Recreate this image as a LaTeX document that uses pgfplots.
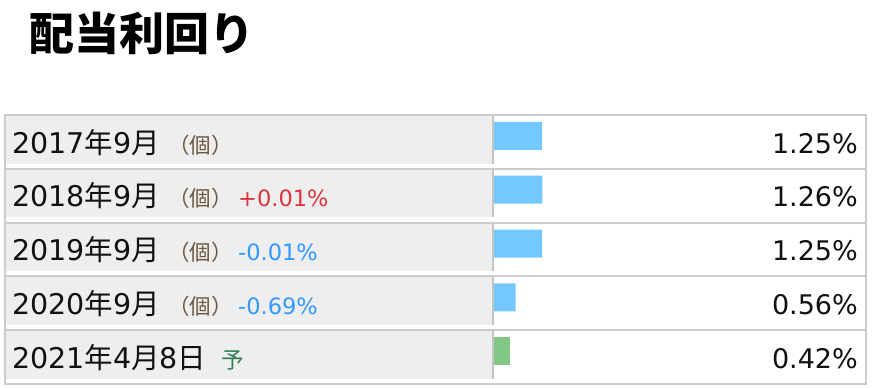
\documentclass[border=0pt]{standalone}
\usepackage{pgfplots}
\pgfplotsset{compat=1.18}
\usepackage{fontspec}
\setmainfont{DejaVu Sans}
\newfontfamily\cjk{Noto Sans CJK JP}
\definecolor{cellgray}{HTML}{EEEEEE}
\definecolor{linegray}{HTML}{CCCCCC}
\definecolor{sepgray}{HTML}{C4C4C4}
\definecolor{barblue}{HTML}{73C8FF}
\definecolor{bargreen}{HTML}{80C884}
\definecolor{labtext}{HTML}{111111}
\definecolor{parbrown}{HTML}{6B5640}
\definecolor{upred}{HTML}{D9363E}
\definecolor{downblue}{HTML}{3399FF}
\definecolor{yogreen}{HTML}{2E7D4E}
\newcommand{\lab}{\fontsize{28.5bp}{30bp}\selectfont}
\begin{document}
\begin{tikzpicture}
\begin{scope}[x=1bp,y=-1bp]
  \path (0,0) rectangle (874,388);
  \foreach \k in {0,...,4}{
    \pgfmathsetmacro{\yl}{115+53.8*\k}
    \fill[cellgray] (6,\yl+1) rectangle (492,\yl+48.5);
    \draw[sepgray,line width=2bp] (493,\yl+1) -- (493,\yl+48.5);
  }
  \foreach \k in {0,...,5}{
    \pgfmathsetmacro{\yl}{115+53.8*\k}
    \draw[linegray,line width=2bp] (4,\yl) -- (867,\yl);
  }
  \draw[linegray,line width=2bp] (5,114) -- (5,385);
  \draw[linegray,line width=2bp] (866,114) -- (866,385);
\end{scope}
\begin{axis}[
  at={(494bp,-109bp)}, anchor=north west,
  scale only axis, width=192bp, height=269bp,
  xmin=0, xmax=5, ymin=-0.5, ymax=4.5, y dir=reverse,
  axis lines=none, ticks=none, clip=false,
  xbar, bar width=28bp, bar shift=0pt,
]
\addplot[draw=none, fill=barblue] coordinates {(1.25,0) (1.26,1) (1.25,2) (0.56,3)};
\addplot[draw=none, fill=bargreen] coordinates {(0.42,4)};
\end{axis}
\begin{scope}[x=1bp,y=-1bp]
  \node[anchor=base west, inner sep=0pt, font=\cjk\fontsize{45bp}{48bp}\selectfont\bfseries] at (29,50) {配当利回り};
  \node[anchor=base west, inner sep=0pt, text=labtext] at (12,153) {\lab 2017{\cjk 年}9{\cjk 月}};
  \node[anchor=base west, inner sep=0pt, text=labtext] at (12,206.8) {\lab 2018{\cjk 年}9{\cjk 月}};
  \node[anchor=base west, inner sep=0pt, text=labtext] at (12,260.6) {\lab 2019{\cjk 年}9{\cjk 月}};
  \node[anchor=base west, inner sep=0pt, text=labtext] at (12,314.4) {\lab 2020{\cjk 年}9{\cjk 月}};
  \node[anchor=base west, inner sep=0pt, text=labtext] at (12,368.2) {\lab 2021{\cjk 年}4{\cjk 月}8{\cjk 日}};
  \foreach \yy in {153, 206.8, 260.6, 314.4}{
    \node[anchor=base west, inner sep=0pt, text=parbrown, font=\cjk\fontsize{21.5bp}{24bp}\selectfont] at (168,\yy) {（個）};
  }
  \node[anchor=base west, inner sep=0pt, text=upred, font=\fontsize{22.5bp}{26bp}\selectfont] at (238,206.8) {+0.01\%};
  \node[anchor=base west, inner sep=0pt, text=downblue, font=\fontsize{22.5bp}{26bp}\selectfont] at (238,260.6) {-0.01\%};
  \node[anchor=base west, inner sep=0pt, text=downblue, font=\fontsize{22.5bp}{26bp}\selectfont] at (238,314.4) {-0.69\%};
  \node[anchor=base west, inner sep=0pt, text=yogreen, font=\cjk\fontsize{22.5bp}{24bp}\selectfont] at (221,368) {予};
  \foreach \v/\yy in {1.25/153, 1.26/206.8, 1.25/260.6, 0.56/314.4, 0.42/368.2}{
    \node[anchor=base east, inner sep=0pt, text=labtext, font=\fontsize{27bp}{30bp}\selectfont] at (858,\yy) {\v\%};
  }
\end{scope}
\pgfresetboundingbox
\path[use as bounding box] (0,0) rectangle (874bp,-388bp);
\end{tikzpicture}
\end{document}
